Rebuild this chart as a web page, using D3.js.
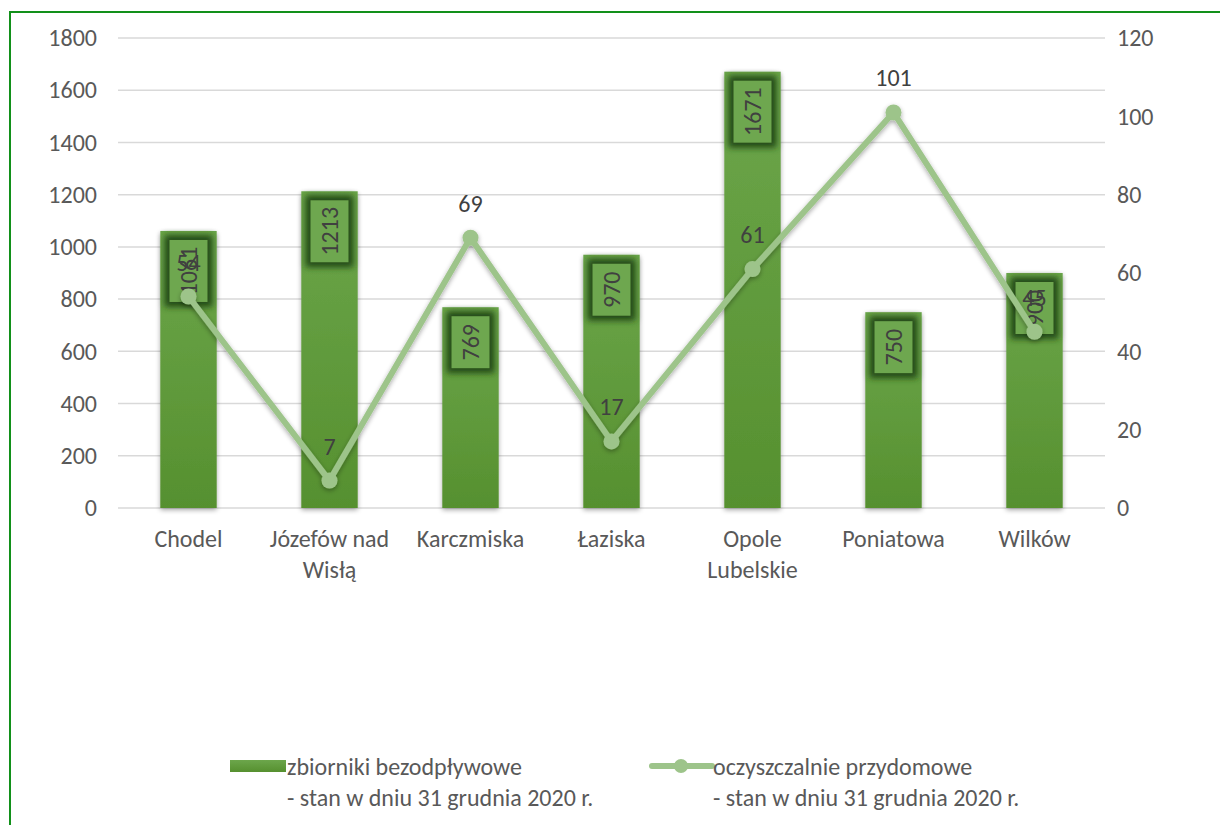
<!DOCTYPE html>
<html>
<head>
<meta charset="utf-8">
<script src="https://cdn.jsdelivr.net/npm/d3@7"></script>
<style>
  body { margin: 0; background: #fff; }
  svg { display: block; font-family: Carlito, "Open Sans", "Liberation Sans", sans-serif; }
</style>
</head>
<body>
<div id="chart"></div>
<script>
// donnees
var gminy = ["Chodel", "Józefów nad|Wisłą", "Karczmiska", "Łaziska", "Opole|Lubelskie", "Poniatowa", "Wilków"];
var zbiorniki = [1061, 1213, 769, 970, 1671, 750, 900];
var oczyszczalnie = [54, 7, 69, 17, 61, 101, 45];
var ticksLeft = [0, 200, 400, 600, 800, 1000, 1200, 1400, 1600, 1800];
var ticksRight = [0, 20, 40, 60, 80, 100, 120];
var legendBar = ["zbiorniki bezodpływowe", "- stan w dniu 31 grudnia 2020 r."];
var legendLine = ["oczyszczalnie przydomowe", "- stan w dniu 31 grudnia 2020 r."];

function draw_chart(){
    var W = 1220, H = 825;
    var pLeft = 118, pRight = 1105, pTop = 38, pBottom = 508;
    var txtColor = "#595959", lblColor = "#404040";
    var lineColor = "#9dc48a";
    var fs = '24px';

    var svg = d3.select('#chart').append('svg').attr('width', W).attr('height', H);
    var defs = svg.append('defs');

    // degrade des barres
    var grad = defs.append('linearGradient').attr('id', 'barGrad')
        .attr('x1', 0).attr('y1', 0).attr('x2', 0).attr('y2', 1);
    grad.append('stop').attr('offset', '0%').attr('stop-color', '#6ca64b');
    grad.append('stop').attr('offset', '100%').attr('stop-color', '#56902f');

    // ombre douce
    var sh = defs.append('filter').attr('id', 'shadow')
        .attr('x', '-30%').attr('y', '-30%').attr('width', '160%').attr('height', '160%');
    sh.append('feGaussianBlur').attr('in', 'SourceAlpha').attr('stdDeviation', 2.5);
    sh.append('feOffset').attr('dx', 0).attr('dy', 2).attr('result', 'b');
    sh.append('feComponentTransfer').append('feFuncA').attr('type', 'linear').attr('slope', 0.35);
    var m = sh.append('feMerge');
    m.append('feMergeNode');
    m.append('feMergeNode').attr('in', 'SourceGraphic');

    // halo sombre des etiquettes
    var glow = defs.append('filter').attr('id', 'glow')
        .attr('x', '-50%').attr('y', '-50%').attr('width', '200%').attr('height', '200%');
    glow.append('feGaussianBlur').attr('stdDeviation', 3);

    // cadre vert
    svg.append('rect')
        .attr('x', 10).attr('y', 12).attr('width', W + 20).attr('height', H + 20)
        .attr('fill', 'none').attr('stroke', '#12901a').attr('stroke-width', 2);

    var x = d3.scaleBand().domain(gminy).range([pLeft, pRight]).paddingInner(0.6).paddingOuter(0.3);
    var y0 = d3.scaleLinear().domain([0, 1800]).range([pBottom, pTop]);
    var y1 = d3.scaleLinear().domain([0, 120]).range([pBottom, pTop]);

    // grille
    svg.append('g').selectAll('line').data(ticksLeft).enter().append('line')
        .attr('x1', pLeft).attr('x2', pRight)
        .attr('y1', function(d){ return y0(d); }).attr('y2', function(d){ return y0(d); })
        .attr('stroke', '#d9d9d9').attr('stroke-width', 1.5);

    // axes
    var axL = svg.append('g').attr('transform', 'translate(' + (pLeft - 21) + ',0)')
        .call(d3.axisLeft(y0).tickValues(ticksLeft).tickSize(0).tickPadding(0).tickFormat(d3.format('d')));
    var axR = svg.append('g').attr('transform', 'translate(' + (pRight + 12) + ',0)')
        .call(d3.axisRight(y1).tickValues(ticksRight).tickSize(0).tickPadding(0));
    [axL, axR].forEach(function(a){
        a.attr('font-family', null).attr('font-size', null);
        a.select('.domain').remove();
        a.selectAll('text').attr('fill', txtColor).style('font-size', fs);
    });

    var axB = svg.append('g').attr('transform', 'translate(0,' + pBottom + ')')
        .call(d3.axisBottom(x).tickSize(0).tickFormat(''));
    axB.attr('font-family', null).attr('font-size', null);
    axB.select('.domain').remove();
    axB.selectAll('.tick').each(function(d){
        var parts = d.split('|');
        var t = d3.select(this).append('text').attr('fill', txtColor)
            .attr('text-anchor', 'middle').style('font-size', fs);
        parts.forEach(function(p, i){
            t.append('tspan').attr('x', 0).attr('y', 39 + i * 31).text(p);
        });
    });

    // barres
    svg.append('g').selectAll('rect').data(zbiorniki).enter().append('rect')
        .attr('x', function(d, i){ return x(gminy[i]); })
        .attr('y', function(d){ return y0(d); })
        .attr('width', x.bandwidth())
        .attr('height', function(d){ return pBottom - y0(d); })
        .attr('fill', 'url(#barGrad)')
        .attr('filter', 'url(#shadow)');

    // etiquettes des barres
    var lab = svg.append('g').selectAll('g').data(zbiorniki).enter().append('g')
        .attr('transform', function(d, i){
            return 'translate(' + (x(gminy[i]) + x.bandwidth() / 2) + ',' + (y0(d) + 9) + ')';
        });
    lab.each(function(d){
        var g = d3.select(this);
        var h = String(d).length * 10 + 22;
        g.append('rect').attr('x', -24).attr('y', -5).attr('width', 48).attr('height', h + 10)
            .attr('fill', '#234a12').attr('filter', 'url(#glow)');
        g.append('rect').attr('x', -19).attr('y', 0).attr('width', 38).attr('height', h)
            .attr('fill', '#6ea74f');
        g.append('text').attr('transform', 'translate(0,' + (h / 2) + ') rotate(-90)')
            .attr('text-anchor', 'middle').attr('dy', '0.35em')
            .attr('fill', lblColor).style('font-size', fs).text(d);
    });

    // ligne
    var line = d3.line()
        .x(function(d, i){ return x(gminy[i]) + x.bandwidth() / 2; })
        .y(function(d){ return y1(d); });
    var lg = svg.append('g').attr('filter', 'url(#shadow)');
    lg.append('path').datum(oczyszczalnie).attr('d', line)
        .attr('fill', 'none').attr('stroke', lineColor).attr('stroke-width', 6)
        .attr('stroke-linejoin', 'round');
    lg.selectAll('circle').data(oczyszczalnie).enter().append('circle')
        .attr('cx', function(d, i){ return x(gminy[i]) + x.bandwidth() / 2; })
        .attr('cy', function(d){ return y1(d); })
        .attr('r', 8).attr('fill', lineColor);

    svg.append('g').selectAll('text').data(oczyszczalnie).enter().append('text')
        .attr('x', function(d, i){ return x(gminy[i]) + x.bandwidth() / 2; })
        .attr('y', function(d){ return y1(d) - 26; })
        .attr('text-anchor', 'middle').attr('fill', lblColor).style('font-size', fs)
        .text(function(d){ return d; });

    // legende
    var leg = svg.append('g');
    leg.append('rect').attr('x', 230).attr('y', 760).attr('width', 56).attr('height', 12)
        .attr('fill', 'url(#barGrad)');
    leg.append('line').attr('x1', 652).attr('x2', 712).attr('y1', 766).attr('y2', 766)
        .attr('stroke', lineColor).attr('stroke-width', 6).attr('stroke-linecap', 'round');
    leg.append('circle').attr('cx', 681).attr('cy', 766).attr('r', 7).attr('fill', lineColor);
    [[legendBar, 287], [legendLine, 713]].forEach(function(l){
        var t = leg.append('text').attr('fill', txtColor).style('font-size', fs);
        l[0].forEach(function(s, i){
            t.append('tspan').attr('x', l[1]).attr('y', 775 + i * 31).text(s);
        });
    });
}

draw_chart();
</script>
</body>
</html>
